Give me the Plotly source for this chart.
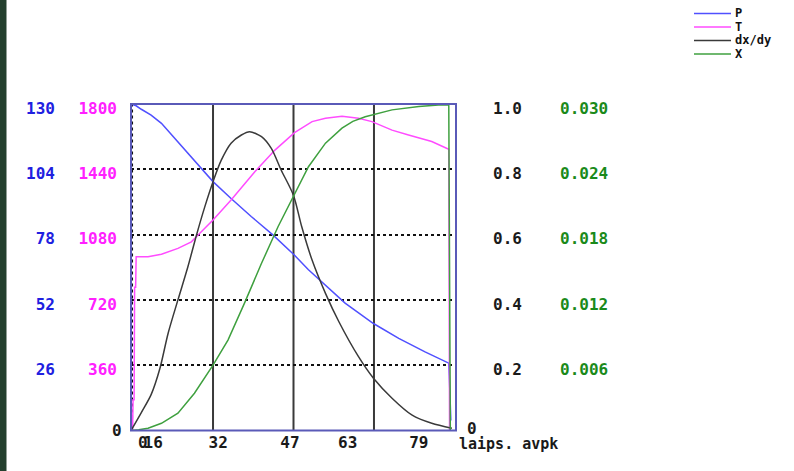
import plotly.graph_objects as go

W, H = 794, 471

# ---------------- data ----------------
p_x = [16.0, 17.0, 18.0, 19.9, 21.9, 25.1, 28.3, 31.9, 35.4, 39.3, 43.5, 47.7, 50.4, 54.3, 57.5, 63.0, 67.9, 73.0, 77.6, 77.7, 78.0]
p_y = [130.0, 129.3, 127.9, 125.6, 122.3, 114.8, 107.3, 99.1, 92.4, 85.2, 77.9, 69.8, 64.0, 56.7, 50.7, 42.6, 36.7, 31.3, 26.8, 22.0, 4.0]

t_x = [16.3, 16.4, 16.6, 16.7, 16.9, 17.0, 19.3, 21.9, 25.1, 27.7, 29.0, 31.9, 35.4, 40.0, 43.9, 47.7, 51.1, 53.7, 56.9, 60.1, 62.7, 66.6, 69.8, 74.3, 77.6, 77.75]
t_y = [0, 170, 170, 790, 790, 958, 958, 972, 1004, 1040, 1078, 1161, 1271, 1427, 1546, 1642, 1703, 1721, 1733, 1721, 1703, 1656, 1629, 1593, 1550, 0]

d_x = [16.0, 18.0, 19.9, 21.6, 23.2, 25.1, 27.0, 28.7, 30.3, 31.9, 33.5, 35.4, 37.4, 39.0, 41.3, 43.2, 45.1, 47.5, 49.1, 51.1, 53.7, 56.3, 60.1, 63.0, 66.6, 70.5, 74.3, 78.2]
d_y = [0.0, 0.055, 0.11, 0.19, 0.298, 0.40, 0.50, 0.599, 0.685, 0.762, 0.828, 0.88, 0.905, 0.915, 0.90, 0.864, 0.798, 0.72, 0.624, 0.522, 0.42, 0.333, 0.226, 0.16, 0.099, 0.047, 0.022, 0.007]

g_x = [16.0, 17.5, 19.3, 21.9, 25.1, 28.3, 31.9, 34.8, 38.0, 41.3, 44.5, 47.5, 50.4, 53.7, 56.9, 59.0, 61.4, 66.6, 71.8, 75.6, 77.6, 77.9]
g_y = [0.0, 0.00006, 0.00021, 0.00066, 0.00159, 0.00342, 0.0060, 0.00831, 0.0117, 0.01536, 0.01872, 0.02154, 0.02424, 0.0264, 0.02778, 0.02840, 0.02883, 0.02946, 0.02976, 0.02991, 0.02994, 0.0]

series_names = ["P", "T", "dx/dy", "X"]
line_colors = ["#5050ff", "#ff4cff", "#3a3a3a", "#3fa03f"]
label_colors = ["#2020e0", "#ff20ff", "#1a1a1a", "#1a8a1a"]
line_shapes = ["linear", "linear", "spline", "linear"]

p_ticks = [26, 52, 78, 104, 130]
t_ticks = [360, 720, 1080, 1440, 1800]
d_ticks = [0.2, 0.4, 0.6, 0.8, 1.0]
d_ticktext = ["0.2", "0.4", "0.6", "0.8", "1.0"]
g_ticks = [0.006, 0.012, 0.018, 0.024, 0.030]
g_ticktext = ["0.006", "0.012", "0.018", "0.024", "0.030"]

x_grid_vals = [31.9, 47.5, 63.1]
x_edge_val = 16.25
x_label_vals = [18.3, 20.3, 32.9, 46.8, 58.0, 71.8]
x_label_text = ["0", "16", "32", "47", "63", "79"]
x_title = "laips. avpk"

# ---------------- figure ----------------
FONT = "DejaVu Sans Mono"
def px_x(px):
    return px / W
def px_y(py):
    return 1 - py / H

fig = go.Figure()
axes = ["y", "y2", "y3", "y4"]
xs = [p_x, t_x, d_x, g_x]
ys = [p_y, t_y, d_y, g_y]
for name, col, shp, xa, ya, yax in zip(series_names, line_colors, line_shapes, xs, ys, axes):
    fig.add_trace(go.Scatter(x=xa, y=ya, name=name, mode="lines", yaxis=yax,
                             line=dict(color=col, width=1.5, shape=shp, smoothing=0.8),
                             showlegend=False))

xdom = [px_x(131), px_x(456)]
ydom = [px_y(430.5), px_y(104)]

def tickfont(c, size=16):
    return dict(family=FONT, size=size, color=c, weight="bold")

fig.update_layout(
    template="none",
    width=W, height=H,
    margin=dict(l=0, r=0, t=0, b=0),
    paper_bgcolor="white", plot_bgcolor="white",
    showlegend=False,
    xaxis=dict(domain=xdom, range=[16, 79], anchor="y", side="bottom",
               tickvals=x_label_vals, ticktext=x_label_text, tickangle=0,
               tickfont=tickfont("#1a1a1a"), showgrid=False, ticks="",
               zeroline=False, showline=False, automargin=False),
    yaxis=dict(domain=ydom, range=[0, 130], anchor="free", position=px_x(55), side="left",
               tickvals=p_ticks, tickfont=tickfont(label_colors[0]),
               showgrid=True, gridcolor="#111111", gridwidth=1.5, griddash="dot",
               ticks="", zeroline=False, showline=False, ticklabelshift=4, automargin=False),
    yaxis2=dict(overlaying="y", range=[0, 1800], anchor="free", position=px_x(117), side="left",
                tickvals=t_ticks, tickfont=tickfont(label_colors[1]), showgrid=False,
                ticks="", zeroline=False, showline=False, ticklabelshift=4, automargin=False),
    yaxis3=dict(overlaying="y", range=[0, 1], anchor="free", position=px_x(492), side="right",
                tickvals=d_ticks, ticktext=d_ticktext, tickfont=tickfont(label_colors[2]), showgrid=False,
                ticks="", zeroline=False, showline=False, ticklabelshift=4, automargin=False),
    yaxis4=dict(overlaying="y", range=[0, 0.03], anchor="free", position=px_x(559), side="right",
                tickvals=g_ticks, ticktext=g_ticktext, tickfont=tickfont(label_colors[3]), showgrid=False,
                ticks="", zeroline=False, showline=False, ticklabelshift=4, automargin=False),
)

shapes = [
    # dark strip at left edge of the page
    dict(type="rect", xref="paper", yref="paper", x0=0, x1=px_x(6.5), y0=0, y1=1,
         fillcolor="#24402e", line=dict(width=0), layer="below"),
    # dotted line along the left edge of the plot
    dict(type="line", xref="x", yref="y domain", x0=x_edge_val, x1=x_edge_val, y0=0, y1=1,
         line=dict(color="#111111", width=1.5, dash="dot"), layer="below"),
]
# solid vertical grid lines
for gx in x_grid_vals:
    shapes.append(dict(type="line", xref="x", yref="y domain", x0=gx, x1=gx, y0=0, y1=1,
                       line=dict(color="#3a3a3a", width=2), layer="below"))
# plot frame
shapes.append(dict(type="rect", xref="x domain", yref="y domain", x0=0, x1=1, y0=0, y1=1,
                   line=dict(color="#5a5ab8", width=2), layer="above"))

annotations = [
    dict(text="0", xref="paper", yref="paper", x=px_x(117), y=px_y(430), showarrow=False,
         xanchor="center", yanchor="middle", font=tickfont("#1a1a1a")),
    dict(text="0", xref="paper", yref="paper", x=px_x(472), y=px_y(428), showarrow=False,
         xanchor="center", yanchor="middle", font=tickfont("#1a1a1a")),
    dict(text=x_title, xref="paper", yref="paper", x=px_x(457), y=px_y(444), showarrow=False,
         xanchor="left", yanchor="middle", font=tickfont("#1a1a1a", 15)),
]
# legend (top right)
for i, (name, col) in enumerate(zip(series_names, line_colors)):
    yy = 13.5 + i * 13.5
    shapes.append(dict(type="line", xref="paper", yref="paper", x0=px_x(694), x1=px_x(731),
                       y0=px_y(yy), y1=px_y(yy), line=dict(color=col, width=1.5)))
    annotations.append(dict(text=name, xref="paper", yref="paper", x=px_x(733), y=px_y(yy),
                            showarrow=False, xanchor="left", yanchor="middle",
                            font=dict(family=FONT, size=12, color="#111111", weight="bold")))

fig.update_layout(shapes=shapes, annotations=annotations)
fig.write_html("out.html", config={"displayModeBar": False},
               post_script="document.body.style.margin='0px';")
